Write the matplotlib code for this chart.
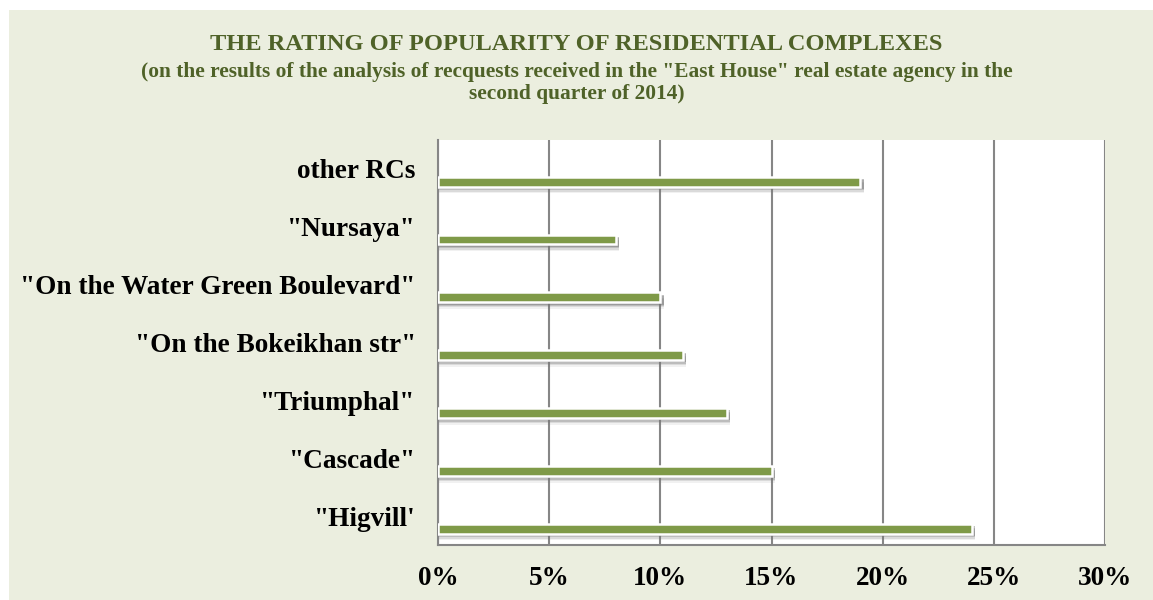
import matplotlib.pyplot as plt
from matplotlib.patches import Rectangle
from matplotlib.ticker import PercentFormatter

categories = ['"Higvill\'', '"Cascade"', '"Triumphal"', '"On the Bokeikhan str"',
              '"On the Water Green Boulevard"', '"Nursaya"', 'other RCs']
shares = [24, 15, 13, 11, 10, 8, 19]
x_ticks = [0, 5, 10, 15, 20, 25, 30]

title = "THE RATING OF POPULARITY OF RESIDENTIAL COMPLEXES"
subtitle = ('(on the results of the analysis of recquests received in the "East House" real estate agency in the\n'
            'second quarter of 2014)')

bg = '#EBEEDF'
bar_color = '#7F9A48'
text_green = '#4F6228'
grid_color = '#868686'

plt.rcParams['font.family'] = ['Liberation Serif', 'DejaVu Serif']

W, H = 1153, 600
fig = plt.figure(figsize=(W / 100, H / 100), dpi=100)
fig.patch.set_facecolor('white')
fig.patches.append(Rectangle((9 / W, 0), 1, 1 - 10 / H, transform=fig.transFigure,
                             facecolor=bg, edgecolor='none', zorder=-5))

ax = fig.add_axes([438 / W, 1 - 545 / H, (1105 - 438) / W, (545 - 140) / H])
ax.set_zorder(2)
ax.set_facecolor('white')

ypos = list(range(len(categories)))
offset = 0.22
bar_h = 0.17
# soft shadow under each bar
for k, a in enumerate([0.45, 0.3, 0.18, 0.1]):
    ax.barh([y - offset - 0.04 - 0.025 * k for y in ypos], [s + 0.15 for s in shares],
            height=bar_h, color='#777777', alpha=a, zorder=2 + k * 0.01, linewidth=0)
ax.barh([y - offset for y in ypos], shares, height=bar_h, color=bar_color,
        edgecolor='white', linewidth=1.8, zorder=3)

ax.set_xlim(0, 30)
ax.set_ylim(-0.5, len(categories) - 0.5)
ax.set_xticks(x_ticks)
ax.xaxis.set_major_formatter(PercentFormatter(decimals=0))
ax.set_yticks(ypos)
ax.set_yticklabels(categories)
ax.grid(axis='x', color=grid_color, linewidth=1.5, zorder=1)
ax.tick_params(axis='both', length=0, labelsize=19.6)
ax.tick_params(axis='y', pad=16)
ax.tick_params(axis='x', pad=15)
for lab in ax.get_xticklabels() + ax.get_yticklabels():
    lab.set_fontweight('bold')

for side in ['top', 'right']:
    ax.spines[side].set_visible(False)
for side in ['left', 'bottom']:
    ax.spines[side].set_color(grid_color)
    ax.spines[side].set_linewidth(1.5)

fig.text(0.5, 1 - 44 / H, title, ha='center', va='center', fontsize=17.6,
         fontweight='bold', color=text_green)
fig.text(0.5, 1 - 83 / H, subtitle, ha='center', va='center', fontsize=15.4,
         fontweight='bold', color=text_green, linespacing=1.2)

fig.savefig('out.png', dpi=100, facecolor=fig.get_facecolor())
